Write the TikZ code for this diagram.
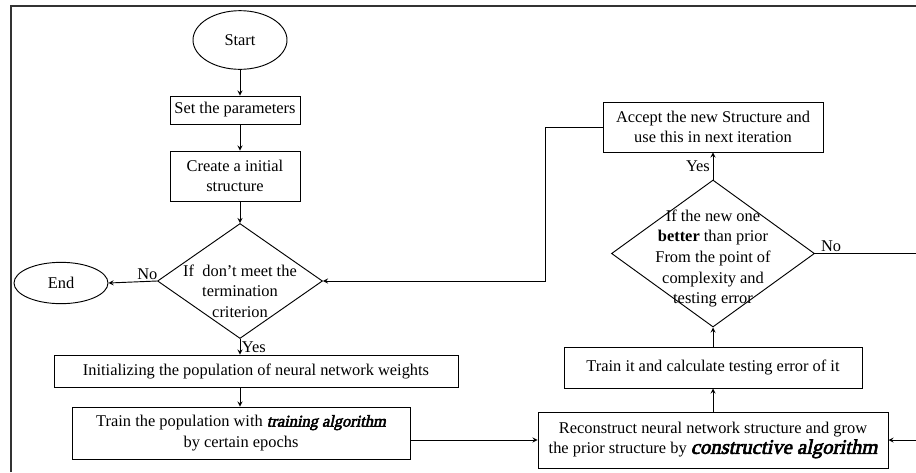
\documentclass[tikz,border=0pt]{standalone}
\usepackage{fontspec}
\setmainfont{Liberation Serif}[BoldItalicFont={*},BoldItalicFeatures={FakeBold=3,FakeSlant=0.22}]
\usetikzlibrary{shapes.geometric}
\begin{document}
\begin{tikzpicture}[>=stealth,x=0.75pt,y=-0.75pt,line width=0.7pt,
	every node/.style={font=\fontsize{12.3}{15.5}\selectfont},
	blk/.style={draw,rectangle,inner sep=0pt,align=center},
	term/.style={draw,ellipse,inner sep=0pt,minimum width=70.5pt},
	dec/.style={draw,diamond,inner sep=0pt}]
	\useasboundingbox (0,0) rectangle (916,472);
	\draw[line width=1.2pt,black!80] (11,472)--(11,6)--(916,6);
	\node[term,minimum height=44pt] (start) at (240,40) {Start};
	\node[blk,minimum width=97.5pt,minimum height=21pt] (params) at (235,110) {Set the parameters};
	\node[blk,minimum width=97.5pt,minimum height=37.5pt] (create) at (235,176) {Create a initial\\structure};
	\node[dec,minimum width=123.75pt,minimum height=86.25pt] (crit) at (240,281) {};
	\node[align=center] (crittext) at (240,291) {If\ \ don’t meet the\\termination\\criterion};
	\node[term,minimum height=31pt] (end) at (61,283) {End};
	\node[blk,minimum width=303pt,minimum height=24pt] (init) at (256,371) {Initializing the population of neural network weights};
	\node[blk,minimum width=253.5pt,minimum height=39pt] (train) at (241,433) {Train the population with \textbf{\textit{training algorithm}}\\by certain epochs};
	\node[blk,minimum width=262.5pt,minimum height=42pt] (recon) at (713,440) {Reconstruct neural network structure and grow\\the prior structure by {\fontsize{15.5}{15.5}\selectfont\textbf{\textit{constructive algorithm}}}};
	\node[blk,minimum width=223.5pt,minimum height=30.75pt] (trainit) at (713,367.5) {Train it and calculate testing error of it};
	\node[dec,minimum width=152.25pt,minimum height=110.25pt] (better) at (713,253.5) {};
	\node[align=center] (bettertext) at (713,258.5) {If the new one\\\textbf{better} than prior\\From the point of\\complexity and\\testing error};
	\node[blk,minimum width=165pt,minimum height=37.5pt] (accept) at (713,127) {Accept the new Structure and\\use this in next iteration};
	\coordinate (outA) at (916,253.5);
	\coordinate (outB) at (916,440);
	\draw[->] (start)--(start|-params.north);
	\draw[->] (params.south-|start)--(create.north-|start);
	\draw[->] (create.south-|crit)--(crit.north);
	\draw[->] (crit.west)--node[pos=0.2,above,inner sep=1pt]{No}(end.east);
	\draw[->] (crit.south)--node[right,inner sep=1pt]{Yes}(crit.south|-init.north);
	\draw[->] (init.south-|crit)--(train.north-|crit);
	\draw[->] (train.east|-recon.west)--(recon.west);
	\draw[->] (outB)--(recon.east);
	\draw[->] (recon)--(trainit);
	\draw[->] (trainit)--(better.south);
	\draw[->] (better.north)--node[left,inner sep=2pt]{Yes}(accept.south);
	\draw (better.east)--node[pos=0.16,above,inner sep=1pt]{No}(outA);
	\draw[->] (accept.west)--++(-57,0)|-(crit.east);
\end{tikzpicture}
\end{document}
